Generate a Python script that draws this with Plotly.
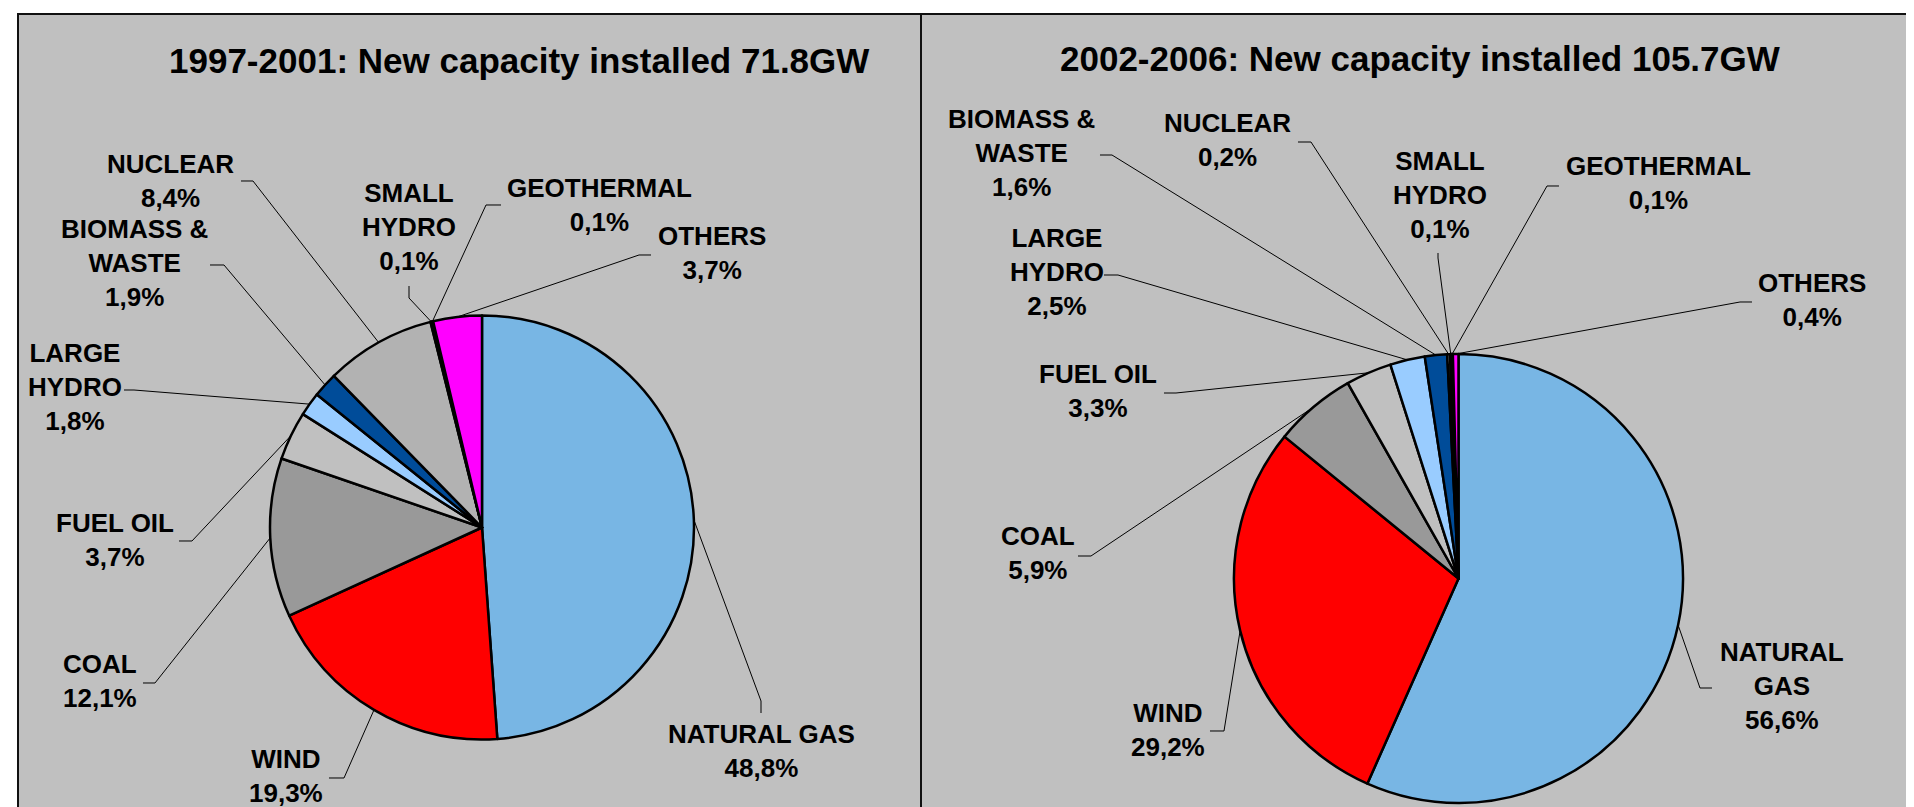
import numpy as np
import plotly.graph_objects as go

W, H = 1914, 807

# --- data -------------------------------------------------------------
sources = ["NATURAL GAS", "WIND", "COAL", "FUEL OIL", "LARGE HYDRO",
           "BIOMASS & WASTE", "NUCLEAR", "SMALL HYDRO", "GEOTHERMAL", "OTHERS"]
share_1997_2001 = [48.8, 19.3, 12.1, 3.7, 1.8, 1.9, 8.4, 0.1, 0.1, 3.7]
share_2002_2006 = [56.6, 29.2, 5.9, 3.3, 2.5, 1.6, 0.2, 0.1, 0.1, 0.4]
names_1997_2001 = ["NATURAL GAS", "WIND", "COAL", "FUEL OIL", "LARGE<br>HYDRO",
                   "BIOMASS &<br>WASTE", "NUCLEAR", "SMALL<br>HYDRO", "GEOTHERMAL", "OTHERS"]
names_2002_2006 = ["NATURAL<br>GAS", "WIND", "COAL", "FUEL OIL", "LARGE<br>HYDRO",
                   "BIOMASS &<br>WASTE", "NUCLEAR", "SMALL<br>HYDRO", "GEOTHERMAL", "OTHERS"]
titles = ["1997-2001: New capacity installed 71.8GW",
          "2002-2006: New capacity installed 105.7GW"]
colors = ["#78B6E4", "#FF0000", "#999999", "#C0C0C0", "#99CCFF",
          "#004C99", "#B2B2B2", "#000080", "#003366", "#FF00FF"]

# --- layout (pixel positions) -------------------------------------------
panels = [
    dict(values=share_1997_2001, names=names_1997_2001, title=titles[0],
         title_pos=(511, 52), center=(474, 519.5), r=212,
         text=[(753, 743), (278, 768), (92, 673), (107, 532), (67, 379),
               (126, 255), (162, 173), (401, 219), (591, 197), (704, 245)],
         tick=[(753, 705), (321, 770), (135, 675), (171, 533), (116, 382),
               (202, 257), (233, 173), (401, 278), (493, 197), (643, 247)],
         elbow=[(753, 693), (336, 770), (147, 675), (184, 533), (126, 382),
                (216, 257), (245, 173), (401, 290), (478, 197), (631, 247)]),
    dict(values=share_2002_2006, names=names_2002_2006, title=titles[1],
         title_pos=(1412, 51), center=(1450.5, 570.5), r=224.5,
         text=[(1774, 678), (1160, 722), (1030, 545), (1090, 383), (1049, 264),
               (1013, 145), (1219, 132), (1432, 187), (1650, 175), (1804, 292)],
         tick=[(1704, 680), (1202, 723), (1070, 548), (1156, 385), (1096, 267),
               (1092, 147), (1290, 134), (1430, 245), (1551, 178), (1744, 294)],
         elbow=[(1692, 680), (1216, 723), (1083, 548), (1168, 385), (1110, 267),
                (1104, 147), (1303, 134), (1430, 250), (1539, 178), (1732, 294)]),
]


def px(x, y):
    return x / W, 1 - y / H


fig = go.Figure()
shapes = []
annotations = []

# panel backgrounds / frames
for x0, x1 in [(10, 913), (913, 1912)]:
    (a, b), (c, d) = px(x0, 6), px(x1, 830)
    shapes.append(dict(type="rect", xref="paper", yref="paper", x0=a, x1=c, y0=d, y1=b,
                       fillcolor="#C0C0C0", line=dict(color="#111111", width=2), layer="below"))

for p in panels:
    cx, cy = p["center"]
    r = p["r"]
    vals = p["values"]
    fig.add_trace(go.Pie(
        labels=sources, values=vals, sort=False, direction="clockwise", rotation=0,
        marker=dict(colors=colors, line=dict(color="black", width=2.5)),
        textinfo="none", hoverinfo="label+percent", showlegend=False,
        domain=dict(x=[(cx - r) / W, (cx + r) / W], y=[1 - (cy + r) / H, 1 - (cy - r) / H]),
    ))

    tx, ty = px(*p["title_pos"])
    annotations.append(dict(text="<b>" + p["title"] + "</b>", x=tx, y=ty, xref="paper", yref="paper",
                            showarrow=False, xanchor="center", yanchor="middle",
                            font=dict(size=35, color="black", family="Liberation Sans, Arial")))

    total = sum(vals)
    cum = 0.0
    for i, v in enumerate(vals):
        ang = np.deg2rad(360 * (cum + v / 2) / total)
        cum += v
        ex, ey = cx + r * np.sin(ang), cy - r * np.cos(ang)
        pts = [px(ex, ey), px(*p["elbow"][i]), px(*p["tick"][i])]
        path = "M " + " L ".join(f"{a:.5f},{b:.5f}" for a, b in pts)
        shapes.append(dict(type="path", xref="paper", yref="paper", path=path,
                           line=dict(color="black", width=1)))
        lx, ly = px(*p["text"][i])
        pct = f"{v:.1f}".replace(".", ",") + "%"
        annotations.append(dict(text="<b>" + p["names"][i] + "<br>" + pct + "</b>",
                                x=lx, y=ly, xref="paper", yref="paper", showarrow=False,
                                xanchor="center", yanchor="middle", align="center",
                                font=dict(size=26, color="black", family="Liberation Sans, Arial")))

fig.update_layout(
    width=W, height=H,
    margin=dict(l=0, r=0, t=0, b=0),
    paper_bgcolor="white",
    plot_bgcolor="white",
    shapes=shapes,
    annotations=annotations,
)

fig.write_html("out.html")
